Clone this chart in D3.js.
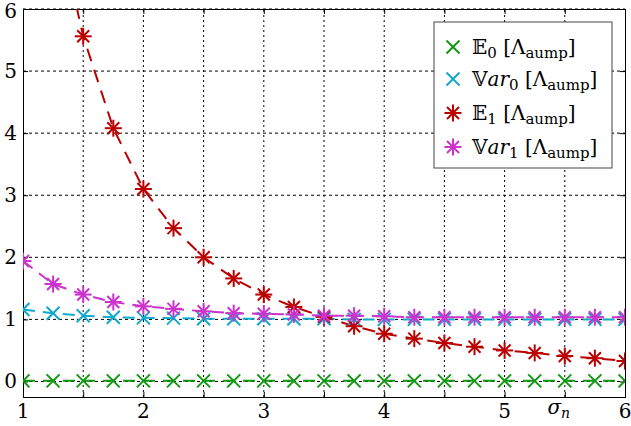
<!DOCTYPE html>
<html><head><meta charset="utf-8">
<script src="https://cdn.jsdelivr.net/npm/d3@7"></script>
<style>body{margin:0;background:#fff}svg{display:block}</style>
</head><body>
<script>
const sigma = [1,1.25,1.5,1.75,2,2.25,2.5,2.75,3,3.25,3.5,3.75,4,4.25,4.5,4.75,5,5.25,5.5,5.75,6];
const E0   = [0.01,0.01,0.01,0.01,0.01,0.01,0.01,0.01,0.01,0.01,0.01,0.01,0.01,0.01,0.01,0.01,0.01,0.01,0.01,0.01,0.01];
const Var0 = [1.16,1.10,1.06,1.035,1.025,1.02,1.01,1.01,1.01,1.01,1.01,1.0,1.0,1.0,1.0,1.0,1.0,1.0,1.0,1.0,1.0];
const E1   = [12.0,7.7,5.56,4.08,3.10,2.47,2.0,1.66,1.40,1.20,1.04,0.89,0.77,0.69,0.62,0.56,0.50,0.46,0.41,0.375,0.33];
const Var1 = [1.94,1.57,1.40,1.28,1.21,1.17,1.13,1.10,1.09,1.08,1.06,1.06,1.05,1.035,1.035,1.035,1.035,1.035,1.035,1.035,1.035];
const xTicks = [1,2,3,4,5,6];
const yTicks = [0,1,2,3,4,5,6];
const seriesNames = ["E0","Var0","E1","Var1"];
const seriesColors = ["#119911","#11aacc","#bb0000","#cc33cc"];
const seriesMarkers = ["x","x","star","star"];

const W=631,H=426;
const svg=d3.select("body").append("svg").attr("width",W).attr("height",H);
const x=d3.scaleLinear().domain([1,6]).range([23,625]);
const y=d3.scaleLinear().domain([-0.25,6]).range([397,9]);

// grid
const g=svg.append("g");
d3.range(1.5,6,0.5).forEach(v=>{
  g.append("line").attr("x1",x(v)).attr("x2",x(v)).attr("y1",y(-0.25)).attr("y2",y(6))
   .attr("stroke","#000").attr("stroke-width",1).attr("stroke-dasharray","2,3");
});
yTicks.forEach(v=>{
  g.append("line").attr("x1",x(1)).attr("x2",x(6)).attr("y1",y(v)).attr("y2",y(v))
   .attr("stroke","#000").attr("stroke-width",1).attr("stroke-dasharray","3,3");
});

// axes with inward ticks
const axB=d3.axisBottom(x).tickValues(d3.range(1,6.01,0.5)).tickSize(-5).tickFormat("");
svg.append("g").attr("transform",`translate(0,${y(-0.25)})`).call(axB);
const axT=d3.axisTop(x).tickValues(d3.range(1,6.01,0.5)).tickSize(-5).tickFormat("");
svg.append("g").attr("transform",`translate(0,${y(6)})`).call(axT);
const axL=d3.axisLeft(y).tickValues(yTicks).tickSize(-5).tickFormat("");
svg.append("g").attr("transform",`translate(${x(1)},0)`).call(axL);
const axR=d3.axisRight(y).tickValues(yTicks).tickSize(-5).tickFormat("");
svg.append("g").attr("transform",`translate(${x(6)},0)`).call(axR);
svg.selectAll(".domain").attr("stroke","#000");
svg.selectAll(".tick line").attr("stroke","#000");

const font="'DejaVu Serif', 'Liberation Serif', serif";
// tick labels
xTicks.forEach(v=>{
  svg.append("text").attr("x",x(v)).attr("y",418).attr("text-anchor","middle")
   .style("font-family",font).style("font-size","20px").text(v);
});
yTicks.forEach(v=>{
  svg.append("text").attr("x",17).attr("y",v===6?y(v)+9:y(v)+7).attr("text-anchor","end")
   .style("font-family",font).style("font-size","20px").text(v);
});
const sl=svg.append("text").attr("x",x(5.5)-6).attr("y",414).attr("text-anchor","middle")
  .style("font-family",font).style("font-size","20px").style("font-style","italic");
sl.append("tspan").text("σ");
sl.append("tspan").style("font-size","14px").attr("dy",4).text("n");

// clip
svg.append("clipPath").attr("id","clip").append("rect")
  .attr("x",x(1)).attr("y",y(6)).attr("width",x(6)-x(1)).attr("height",y(-0.25)-y(6));

function marker(sel,type,cx,cy,color){
  const gm=sel.append("g").attr("transform",`translate(${cx},${cy})`)
    .attr("stroke",color).attr("stroke-width",2).attr("fill","none");
  if(type==="x"){
    const r=6.5;
    gm.append("line").attr("x1",-r).attr("y1",-r).attr("x2",r).attr("y2",r);
    gm.append("line").attr("x1",-r).attr("y1",r).attr("x2",r).attr("y2",-r);
  } else {
    const r=8.5, d=6;
    gm.append("line").attr("x1",-r).attr("y1",0).attr("x2",r).attr("y2",0);
    gm.append("line").attr("x1",0).attr("y1",-r).attr("x2",0).attr("y2",r);
    gm.append("line").attr("x1",-d).attr("y1",-d).attr("x2",d).attr("y2",d);
    gm.append("line").attr("x1",-d).attr("y1",d).attr("x2",d).attr("y2",-d);
  }
}

const data=[E0,Var0,E1,Var1];
const plot=svg.append("g").attr("clip-path","url(#clip)");
const line=d3.line().x((d,i)=>x(sigma[i])).y(d=>y(d));
data.forEach((s,k)=>{
  plot.append("path").datum(s).attr("d",line).attr("fill","none")
   .attr("stroke",seriesColors[k]).attr("stroke-width",2)
   .attr("stroke-dasharray", k===2 ? "13,9" : "12,8");
});
data.forEach((s,k)=>{
  s.forEach((v,i)=>{ if(v<=6.2) marker(plot,seriesMarkers[k],x(sigma[i]),y(v),seriesColors[k]); });
});

// legend
const lg=svg.append("g");
lg.append("rect").attr("x",434).attr("y",22).attr("width",178).attr("height",146)
  .attr("fill","#fff").attr("stroke","#444").attr("stroke-width",1);
const rows=[47,79,113,147];
const labels=[["𝔼","","0"],["𝕍","ar","0"],["𝔼","","1"],["𝕍","ar","1"]];
labels.forEach((lb,k)=>{
  marker(lg,seriesMarkers[k],453,rows[k],seriesColors[k]);
  const t=lg.append("text").attr("x",472).attr("y",rows[k]+7)
    .style("font-family",font).style("font-size","20px");
  t.append("tspan").text(lb[0]);
  if(lb[1]) t.append("tspan").style("font-style","italic").text(lb[1]);
  t.append("tspan").style("font-size","15px").attr("dy",4).text(lb[2]);
  t.append("tspan").attr("dy",-4).text(" [Λ");
  t.append("tspan").style("font-size","15px").attr("dy",4).text("aump");
  t.append("tspan").attr("dy",-4).text("]");
});
</script>
</body></html>
